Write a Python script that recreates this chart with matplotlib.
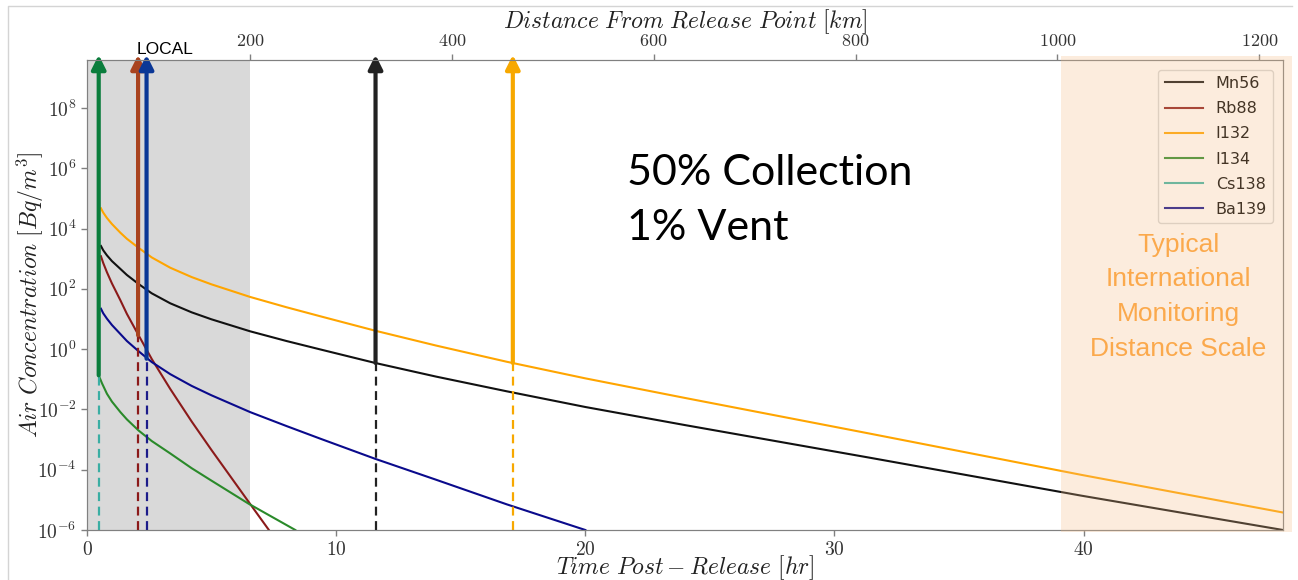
import numpy as np
import matplotlib.pyplot as plt
from matplotlib.patches import Rectangle
from matplotlib.lines import Line2D
from matplotlib.ticker import FuncFormatter, NullLocator

plt.rcParams['mathtext.fontset'] = 'cm'
plt.rcParams['font.family'] = 'DejaVu Sans'

W, H = 1298, 580

# ---- data (concentrations as log10 of Bq/m^3) ----
grid_t = [0.56, 0.65, 0.8, 1.0, 1.34, 1.6, 2.07, 2.6, 3.34, 4.2, 4.99, 6.55, 8.0,
          9.36, 11.57, 14.0, 16.85, 20.0, 24.0, 31.4, 39.9, 48.0]

mn56_t = grid_t
mn56_log = [3.42, 3.28, 3.11, 2.92, 2.66, 2.46, 2.16, 1.85, 1.52, 1.22, 0.99, 0.59, 0.27,
            -0.01, -0.46, -0.91, -1.40, -1.92, -2.52, -3.60, -4.86, -6.00]

rb88_t = [0.56, 0.65, 0.8, 1.0, 1.34, 1.6, 2.07, 2.6, 3.34, 4.2, 4.99, 6.55, 7.3]
rb88_log = [3.08, 2.86, 2.55, 2.18, 1.62, 1.17, 0.46, -0.33, -1.32, -2.40, -3.34, -5.14, -6.0]

i132_t = grid_t
i132_log = [4.67, 4.53, 4.35, 4.15, 3.86, 3.66, 3.36, 3.04, 2.70, 2.39, 2.15, 1.73, 1.39,
            1.09, 0.61, 0.12, -0.42, -0.97, -1.62, -2.80, -4.17, -5.42]

i134_t = [0.47, 0.6, 0.8, 1.0, 1.34, 1.6, 2.07, 2.6, 3.34, 4.2, 4.99, 6.49, 8.36]
i134_log = [-0.87, -1.13, -1.48, -1.74, -2.09, -2.33, -2.70, -3.05, -3.46, -3.95, -4.36, -5.13, -6.0]

cs138_t = []
cs138_log = []

ba139_t = [0.56, 0.65, 0.8, 1.0, 1.34, 1.6, 2.07, 2.6, 3.34, 4.2, 4.99, 6.55, 8.0, 9.36,
           11.57, 14.0, 16.85, 20.0]
ba139_log = [1.34, 1.19, 1.01, 0.80, 0.50, 0.27, -0.07, -0.43, -0.83, -1.22, -1.53, -2.09,
             -2.55, -2.97, -3.64, -4.33, -5.15, -6.0]

# arrows: time [hr], log10 of the arrow base
arrow_t = [0.47, 2.05, 2.39, 11.58, 17.09]
arrow_base = [-0.87, 0.46, -0.32, -0.46, -0.46]
arrow_colors = ['#0a7d3c', '#a9431f', '#0a3796', '#222222', '#f7a800']
dash_colors = ['#3aaea3', '#8b1a1a', '#1c1c8a', '#222222', '#f7a800']

x_ticks = [0, 10, 20, 30, 40]
km_ticks = [200, 400, 600, 800, 1000, 1200]
y_exps = [-6, -4, -2, 0, 2, 4, 6, 8]

series = [
    ('Mn56', mn56_t, mn56_log, '#111111'),
    ('Rb88', rb88_t, rb88_log, '#8b1a1a'),
    ('I132', i132_t, i132_log, '#ffa500'),
    ('I134', i134_t, i134_log, '#2a8a2a'),
    ('Cs138', cs138_t, cs138_log, '#3cb3a6'),
    ('Ba139', ba139_t, ba139_log, '#0a0a8c'),
]

fig = plt.figure(figsize=(W / 100, H / 100), dpi=100)
ax = fig.add_axes([87 / W, 1 - 530 / H, (1283 - 87) / W, (530 - 60) / H])
ax.set_yscale('log')
ax.set_xlim(0, 48)
ax.set_ylim(1e-6, 10 ** 9.59)

# local region
ax.axvspan(0, 6.54, color='#d9d9d9', lw=0, zorder=0)

for name, t, lg, c in series:
    ax.plot(t, 10 ** np.array(lg, dtype=float), color=c, lw=1.5, label=name, zorder=2)

for t, b, ca, cd in zip(arrow_t, arrow_base, arrow_colors, dash_colors):
    ax.plot([t, t], [1e-6, 10 ** b], color=cd, lw=1.6, ls=(0, (4, 2.5)), zorder=3)
    ax.annotate('', xy=(t, 10 ** 9.76), xytext=(t, 10 ** b),
                arrowprops=dict(arrowstyle='-|>', lw=3, color=ca, mutation_scale=21,
                                shrinkA=0, shrinkB=0),
                annotation_clip=False, zorder=4)

spine_c = '#808080'
tick_c = '#333333'

ax.set_yticks([10.0 ** e for e in y_exps])
ax.yaxis.set_minor_locator(NullLocator())
ax.yaxis.set_major_formatter(FuncFormatter(lambda v, p: r'$10^{%d}$' % round(np.log10(v))))
ax.set_xticks(x_ticks)
ax.xaxis.set_major_formatter(FuncFormatter(lambda v, p: r'$%d$' % v))
ax.tick_params(labelsize=14, colors=spine_c, labelcolor=tick_c, length=4, width=1)
for s in ax.spines.values():
    s.set_color(spine_c)
ax.set_xlabel(r'$Time\ Post-Release\ [hr]$', fontsize=17, color='#222222', labelpad=-4.5)
ax.set_ylabel(r'$Air\ Concentration\ [Bq/m^3]$', fontsize=17, color='#222222', labelpad=-6)

ax2 = ax.twiny()
ax2.set_xlim(38.5, 1223.5)
ax2.set_xticks(km_ticks)
ax2.xaxis.set_major_formatter(FuncFormatter(lambda v, p: r'$%d$' % v))
ax2.tick_params(labelsize=13, colors=spine_c, labelcolor=tick_c, length=4, width=1)
for s in ax2.spines.values():
    s.set_color(spine_c)
ax2.set_xlabel(r'$Distance\ From\ Release\ Point\ [km]$', fontsize=17, color='#222222',
               labelpad=2.5)

leg = ax.legend(loc='upper right', fontsize=11.5, handlelength=2.4, labelspacing=0.64,
                borderaxespad=0.6, fancybox=True, edgecolor='#cccccc')
leg.set_zorder(5)

# monitoring scale overlay
fig.patches.append(Rectangle((1061 / W, 1 - 532 / H), (1292 - 1061) / W, (532 - 56) / H,
                             transform=fig.transFigure, facecolor='#f5be88', alpha=0.28,
                             lw=0, zorder=10))
# slide frame (left and top edges)
fig.lines.append(Line2D([8 / W, 8 / W, 1292 / W], [0, 1 - 6 / H, 1 - 6 / H],
                        transform=fig.transFigure, color='#d4d4d4', lw=1, zorder=11))

fig.text(627 / W, 1 - 185 / H, '50% Collection', fontsize=31, family='Lato',
         va='baseline', ha='left', zorder=12)
fig.text(627 / W, 1 - 240 / H, '1% Vent', fontsize=31, family='Lato',
         va='baseline', ha='left', zorder=12)
for i, line in enumerate(['Typical', 'International', 'Monitoring', 'Distance Scale']):
    fig.text(1178 / W, 1 - (252 + 34.5 * i) / H, line, fontsize=19, family='Liberation Sans',
             color='#fba94c', va='baseline', ha='center', zorder=12)
fig.text(137 / W, 1 - 54 / H, 'LOCAL', fontsize=12.5, family='Liberation Sans',
         va='baseline', ha='left', zorder=12)

fig.savefig('out.png', dpi=100)
